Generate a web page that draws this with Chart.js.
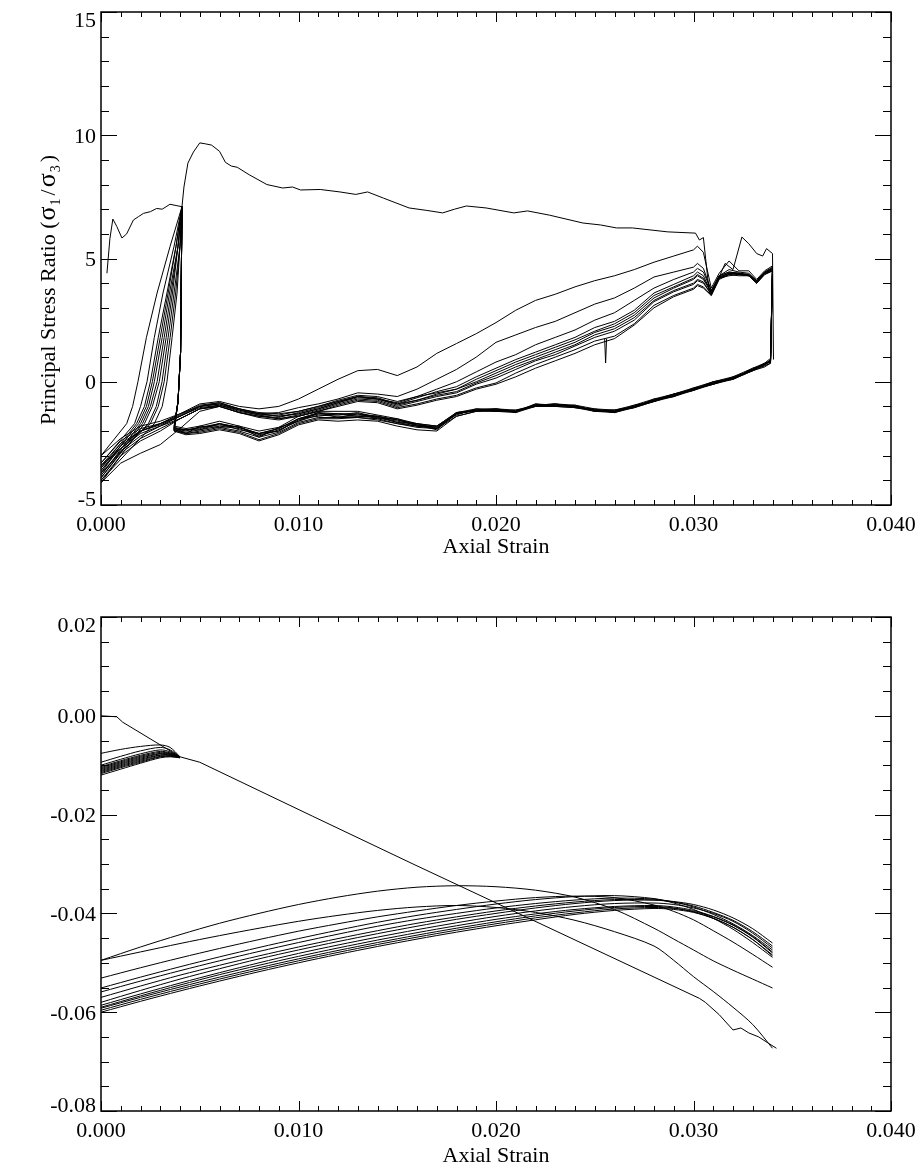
<!DOCTYPE html>
<html>
<head>
<meta charset="utf-8">
<title>Stress ratio and volumetric strain vs axial strain</title>
<script src="https://cdn.jsdelivr.net/npm/chart.js@4.4.1/dist/chart.umd.min.js"></script>
<style>
  html, body { margin: 0; padding: 0; background: #fff; }
  #wrap { position: relative; width: 923px; height: 1170px; }
  canvas { position: absolute; left: 0; }
  #stressChart { top: 0; }
  #volChart { top: 585px; }
</style>
</head>
<body>
<div id="wrap">
  <canvas id="stressChart" width="923" height="585"></canvas>
  <canvas id="volChart" width="923" height="585"></canvas>
</div>
<script>
// ---- tick labels ----
var strainTicks = [0, 0.01, 0.02, 0.03, 0.04];
var stressTicks = [-5, 0, 5, 10, 15];
var volTicks = [-0.08, -0.06, -0.04, -0.02, 0, 0.02];

// ---- stress ratio: first loading ----
var firstStrain = [0.0003, 0.00045, 0.0006, 0.0008, 0.00106, 0.0013, 0.00164, 0.0019, 0.00215, 0.0025,
  0.00282, 0.0031, 0.00349, 0.0038, 0.0041, 0.0042, 0.0044, 0.00468, 0.005, 0.0053,
  0.0056, 0.006, 0.0063, 0.0066, 0.0069, 0.0075, 0.0084, 0.0092, 0.0097, 0.0101,
  0.0111, 0.0121, 0.0129, 0.0135, 0.0143, 0.0156, 0.0165, 0.0173, 0.0179, 0.0185,
  0.0195, 0.0209, 0.0216, 0.0227, 0.0244, 0.0253, 0.0261, 0.0269, 0.0287, 0.0301,
  0.0303, 0.0305, 0.0308, 0.0312, 0.0316, 0.0320, 0.03245, 0.0328, 0.0332, 0.0335,
  0.0337, 0.0340, 0.03405];
var firstRatio = [4.4, 5.8, 6.6, 6.3, 5.83, 6.0, 6.56, 6.7, 6.83, 6.9,
  7.03, 7.0, 7.2, 7.15, 7.1, 7.9, 8.87, 9.32, 9.69, 9.65,
  9.6, 9.35, 8.9, 8.75, 8.7, 8.4, 8.0, 7.86, 7.9, 7.78,
  7.8, 7.7, 7.6, 7.7, 7.45, 7.05, 6.95, 6.85, 7.0, 7.13,
  7.05, 6.85, 6.93, 6.76, 6.44, 6.36, 6.24, 6.24, 6.08, 6.03,
  5.75, 5.85, 3.6, 4.05, 4.8, 4.55, 5.87, 5.6, 5.2, 5.1,
  5.4, 5.2, 0.9];

// ---- stress ratio: repeated cycles ----
// unloading from the peak at 0.0041 (same ratio levels for every cycle)
var steepRatio = [7.1, 5.5, 3.6, 1.8, 0, -1.0, -1.7];
var steepStrain = [
  [0.0041, 0.0035, 0.00284, 0.0023, 0.00187, 0.0016, 0.0013],
  [0.0041, 0.0037, 0.00314, 0.0027, 0.00233, 0.0020, 0.0017],
  [0.0041, 0.0038, 0.00334, 0.0029, 0.0025, 0.0022, 0.0018],
  [0.0041, 0.0038, 0.0034, 0.0030, 0.0026, 0.0023, 0.0019],
  [0.0041, 0.0039, 0.00347, 0.0031, 0.0027, 0.0024, 0.0020],
  [0.0041, 0.0039, 0.00355, 0.0032, 0.00284, 0.0025, 0.0021],
  [0.0041, 0.0039, 0.00362, 0.0033, 0.00295, 0.0026, 0.0022],
  [0.0041, 0.0040, 0.0037, 0.0034, 0.00309, 0.0028, 0.0024],
  [0.0041, 0.0040, 0.00378, 0.0035, 0.0032, 0.0029, 0.0025],
  [0.0041, 0.0040, 0.00385, 0.0036, 0.00334, 0.0031, 0.0027]
];

// upper branch, 0 -> 0.034
var strainUp = [0, 0.001, 0.002, 0.003, 0.004, 0.005, 0.006, 0.007, 0.008, 0.009,
  0.010, 0.011, 0.012, 0.013, 0.014, 0.015, 0.016, 0.017, 0.018, 0.019,
  0.020, 0.021, 0.022, 0.023, 0.024, 0.025, 0.026, 0.027, 0.028, 0.029,
  0.030, 0.0302, 0.0305, 0.0309, 0.0313, 0.0318, 0.0323, 0.0328, 0.0332, 0.0336, 0.0340];
var upperRatio = [
  [-3.0, -2.3, -1.8, -1.6, -1.3, -0.9, -0.8, -1.0, -1.1, -1.0, -0.7, -0.3, 0.1, 0.45, 0.5, 0.25, 0.6, 1.15, 1.55, 1.95,
   2.4, 2.9, 3.3, 3.55, 3.85, 4.1, 4.3, 4.55, 4.85, 5.1, 5.35, 5.5, 5.25, 3.8, 4.4, 4.9, 4.5, 4.5, 4.15, 4.5, 4.7],
  [-3.3, -2.4, -1.9, -1.7, -1.3, -1.0, -0.85, -1.1, -1.3, -1.25, -1.05, -0.9, -0.7, -0.45, -0.5, -0.6, -0.3, 0.1, 0.5, 1.0,
   1.6, 1.9, 2.2, 2.45, 2.8, 3.15, 3.4, 3.8, 4.25, 4.45, 4.65, 4.8, 4.6, 3.7, 4.3, 4.55, 4.45, 4.4, 4.1, 4.45, 4.65],
  [-3.5, -2.6, -2.0, -1.7, -1.4, -1.05, -0.95, -1.2, -1.35, -1.35, -1.2, -1.0, -0.8, -0.6, -0.7, -0.85, -0.6, -0.3, 0.0, 0.4,
   0.8, 1.1, 1.5, 1.8, 2.1, 2.5, 2.8, 3.3, 3.8, 4.15, 4.45, 4.6, 4.45, 3.7, 4.3, 4.45, 4.4, 4.35, 4.05, 4.4, 4.6],
  [-3.6, -2.7, -2.1, -1.8, -1.5, -1.1, -1.0, -1.25, -1.4, -1.45, -1.25, -1.05, -0.8, -0.6, -0.65, -0.9, -0.65, -0.4, -0.2, 0.2,
   0.55, 0.9, 1.2, 1.5, 1.8, 2.2, 2.45, 2.9, 3.6, 3.95, 4.3, 4.45, 4.3, 3.6, 4.25, 4.4, 4.35, 4.3, 4.0, 4.4, 4.55],
  [-3.8, -2.8, -2.2, -1.8, -1.4, -1.0, -0.9, -1.1, -1.3, -1.4, -1.3, -1.1, -0.85, -0.6, -0.7, -0.95, -0.75, -0.5, -0.3, 0.0,
   0.35, 0.7, 1.0, 1.3, 1.6, 2.0, 2.25, 2.7, 3.4, 3.8, 4.15, 4.3, 4.15, 3.65, 4.3, 4.45, 4.4, 4.35, 4.1, 4.45, 4.6],
  [-3.9, -2.9, -2.3, -1.9, -1.5, -1.1, -0.95, -1.15, -1.35, -1.5, -1.35, -1.15, -0.9, -0.7, -0.75, -1.0, -0.8, -0.6, -0.45, -0.1,
   0.15, 0.5, 0.85, 1.1, 1.45, 1.8, 2.05, 2.5, 3.25, 3.65, 3.95, 4.1, 4.0, 3.55, 4.2, 4.35, 4.4, 4.3, 4.05, 4.4, 4.5],
  [-4.1, -3.3, -2.9, -2.55, -1.9, -1.2, -1.0, -1.25, -1.45, -1.55, -1.4, -1.2, -0.95, -0.75, -0.8, -1.05, -0.9, -0.7, -0.55, -0.25,
   -0.05, 0.35, 0.7, 1.0, 1.3, 1.65, 1.85, 2.35, 3.1, 3.5, 3.8, 3.95, 3.85, 3.5, 4.2, 4.3, 4.35, 4.3, 4.0, 4.35, 4.5],
  [-3.7, -2.6, -2.0, -1.7, -1.35, -0.95, -0.85, -1.1, -1.25, -1.3, -1.2, -1.0, -0.75, -0.55, -0.6, -0.8, -0.6, -0.45, -0.3, 0.1,
   0.45, 0.8, 1.1, 1.4, 1.7, 2.05, 2.35, 2.8, 3.5, 3.85, 4.2, 4.35, 4.2, 3.6, 4.25, 4.4, 4.35, 4.35, 4.05, 4.4, 4.6],
  [-3.4, -2.5, -2.0, -1.75, -1.4, -1.0, -0.9, -1.15, -1.3, -1.4, -1.3, -1.1, -0.85, -0.65, -0.7, -0.9, -0.75, -0.55, -0.4, -0.05,
   0.25, 0.6, 0.9, 1.2, 1.5, 1.9, 2.15, 2.6, 3.3, 3.7, 4.0, 4.15, 4.05, 3.55, 4.2, 4.4, 4.4, 4.3, 4.0, 4.45, 4.55],
  [-4.0, -3.0, -2.4, -2.0, -1.5, -1.1, -1.0, -1.25, -1.4, -1.5, -1.4, -1.2, -1.0, -0.8, -0.85, -1.1, -0.95, -0.75, -0.6, -0.3,
   -0.1, 0.2, 0.55, 0.85, 1.15, 1.5, 1.75, 2.3, 3.0, 3.45, 3.75, 3.9, 3.8, 3.5, 4.15, 4.35, 4.3, 4.3, 4.0, 4.35, 4.5]
];

// lower branch, 0.034 -> 0.0037
var strainDown = [0.0339, 0.0336, 0.033, 0.032, 0.031, 0.030, 0.029, 0.028, 0.027, 0.026,
  0.025, 0.024, 0.023, 0.022, 0.021, 0.020, 0.019, 0.018, 0.017, 0.016,
  0.015, 0.014, 0.013, 0.012, 0.011, 0.010, 0.009, 0.008, 0.007, 0.006,
  0.005, 0.0043, 0.0037];
var lowerRatio = [
  [0.9, 0.65, 0.55, 0.1, 0.0, -0.35, -0.5, -0.8, -0.95, -1.25, -1.1, -1.05, -0.9, -1.0, -1.15, -1.2, -1.1, -1.35, -1.8, -1.8,
   -1.5, -1.5, -1.3, -1.45, -1.25, -1.6, -1.85, -2.25, -1.8, -1.85, -1.8, -2.1, -1.85],
  [0.8, 0.75, 0.45, 0.2, -0.1, -0.25, -0.6, -0.7, -1.05, -1.15, -1.2, -0.95, -1.0, -0.9, -1.25, -1.1, -1.2, -1.25, -1.9, -1.7,
   -1.65, -1.4, -1.4, -1.3, -1.4, -1.5, -2.0, -2.1, -1.95, -1.7, -1.95, -1.95, -1.95],
  [0.85, 0.7, 0.5, 0.15, -0.1, -0.3, -0.5, -0.75, -1.0, -1.2, -1.2, -1.0, -0.95, -0.9, -1.2, -1.2, -1.15, -1.3, -1.95, -1.75,
   -1.6, -1.45, -1.25, -1.35, -1.3, -1.55, -2.0, -2.15, -1.85, -1.75, -1.85, -2.0, -1.9],
  [0.75, 0.65, 0.45, 0.1, -0.05, -0.35, -0.55, -0.8, -1.05, -1.2, -1.15, -1.05, -1.0, -1.0, -1.2, -1.15, -1.2, -1.4, -1.9, -1.85,
   -1.7, -1.55, -1.45, -1.5, -1.5, -1.7, -2.1, -2.35, -2.05, -1.9, -2.05, -2.1, -2.0],
  [0.95, 0.75, 0.55, 0.2, 0.0, -0.25, -0.5, -0.7, -0.95, -1.15, -1.1, -0.95, -0.9, -0.95, -1.15, -1.1, -1.1, -1.25, -1.8, -1.7,
   -1.5, -1.35, -1.2, -1.2, -1.2, -1.4, -1.85, -2.0, -1.8, -1.6, -1.8, -1.9, -1.8],
  [0.85, 0.7, 0.5, 0.15, -0.05, -0.3, -0.6, -0.75, -1.0, -1.25, -1.15, -1.0, -0.95, -0.95, -1.2, -1.15, -1.15, -1.3, -1.85, -1.8,
   -1.65, -1.45, -1.4, -1.4, -1.35, -1.6, -1.95, -2.2, -1.9, -1.8, -1.95, -2.05, -1.95],
  [0.9, 0.7, 0.5, 0.15, -0.05, -0.3, -0.55, -0.75, -1.0, -1.2, -1.15, -1.0, -0.95, -0.95, -1.2, -1.15, -1.15, -1.3, -1.85, -1.75,
   -1.55, -1.4, -1.35, -1.3, -1.3, -1.5, -1.9, -2.1, -1.85, -1.7, -1.9, -1.95, -1.9],
  [0.75, 0.6, 0.45, 0.1, -0.1, -0.35, -0.6, -0.8, -1.05, -1.25, -1.2, -1.05, -1.0, -1.0, -1.25, -1.2, -1.2, -1.4, -2.0, -1.95,
   -1.8, -1.6, -1.55, -1.6, -1.55, -1.75, -2.15, -2.4, -2.1, -1.95, -2.1, -2.15, -2.0],
  [0.85, 0.75, 0.5, 0.15, 0.0, -0.3, -0.5, -0.75, -1.0, -1.15, -1.15, -1.0, -0.9, -0.95, -1.2, -1.1, -1.15, -1.25, -1.8, -1.7,
   -1.55, -1.4, -1.3, -1.3, -1.25, -1.5, -1.9, -2.1, -1.85, -1.7, -1.85, -1.95, -1.85],
  [0.8, 0.7, 0.45, 0.15, -0.1, -0.3, -0.55, -0.8, -1.0, -1.2, -1.15, -1.0, -0.95, -0.95, -1.2, -1.15, -1.15, -1.3, -1.9, -1.8,
   -1.7, -1.5, -1.45, -1.45, -1.45, -1.65, -2.05, -2.25, -2.0, -1.85, -2.0, -2.1, -1.95]
];

// reloading back up to the peak
var riseStrain = [0.0039, 0.00403, 0.0041];
var riseRatio = [-0.8, 1.2, 7.1];

// single bad sample near 0.0255
var spikeStrain = [0.0255, 0.02555, 0.0256];
var spikeRatio = [1.75, 0.76, 1.75];

// ---- volumetric strain ----
var volLineStrain = [0, 0.0008, 0.0011, 0.004, 0.005, 0.0107, 0.0158, 0.0214, 0.0303, 0.0306,
  0.0313, 0.0320, 0.0324, 0.0328, 0.0333, 0.0338, 0.0342];
var volLine = [0.0, -0.0002, -0.0013, -0.0083, -0.0094, -0.0203, -0.0300, -0.0405, -0.0572, -0.0580,
  -0.0605, -0.0636, -0.0632, -0.0642, -0.0650, -0.0663, -0.0673];

var arcStrain = [0, 0.002, 0.004, 0.006, 0.008, 0.010, 0.012, 0.014, 0.016, 0.018,
  0.020, 0.022, 0.024, 0.026, 0.028, 0.029, 0.030, 0.031, 0.032, 0.033, 0.034];
var volArcs = [
  [-0.0495, -0.0468, -0.0443, -0.0420, -0.0400, -0.0382, -0.0367, -0.0355, -0.0347, -0.0344, -0.0346, -0.0353, -0.0367, -0.0392, -0.0430, -0.0452, -0.0474, -0.0496, -0.0515, -0.0533, -0.0551],
  [-0.0495, -0.0478, -0.0461, -0.0445, -0.0430, -0.0416, -0.0404, -0.0394, -0.0387, -0.0384, -0.0388, -0.0398, -0.0414, -0.0437, -0.0466, -0.0495, -0.0528, -0.0558, -0.0590, -0.0625, -0.0673],
  [-0.0531, -0.0510, -0.0490, -0.0471, -0.0453, -0.0436, -0.0421, -0.0407, -0.0395, -0.0384, -0.0375, -0.0368, -0.0365, -0.0368, -0.0383, -0.0396, -0.0413, -0.0435, -0.0458, -0.0483, -0.0509],
  [-0.0551, -0.0529, -0.0508, -0.0488, -0.0469, -0.0451, -0.0434, -0.0418, -0.0404, -0.0392, -0.0381, -0.0372, -0.0366, -0.0364, -0.0370, -0.0379, -0.0392, -0.0410, -0.0432, -0.0459, -0.0489],
  [-0.0559, -0.0537, -0.0516, -0.0496, -0.0477, -0.0459, -0.0442, -0.0426, -0.0412, -0.0400, -0.0389, -0.0380, -0.0373, -0.0369, -0.0371, -0.0377, -0.0387, -0.0402, -0.0421, -0.0445, -0.0474],
  [-0.0570, -0.0547, -0.0525, -0.0505, -0.0486, -0.0468, -0.0451, -0.0435, -0.0420, -0.0407, -0.0395, -0.0385, -0.0377, -0.0372, -0.0373, -0.0377, -0.0385, -0.0398, -0.0414, -0.0437, -0.0466],
  [-0.0580, -0.0556, -0.0533, -0.0512, -0.0492, -0.0474, -0.0457, -0.0441, -0.0426, -0.0412, -0.0400, -0.0389, -0.0380, -0.0374, -0.0373, -0.0376, -0.0382, -0.0393, -0.0409, -0.0431, -0.0460],
  [-0.0586, -0.0563, -0.0541, -0.0520, -0.0500, -0.0481, -0.0464, -0.0448, -0.0433, -0.0419, -0.0406, -0.0395, -0.0386, -0.0380, -0.0379, -0.0382, -0.0389, -0.0400, -0.0416, -0.0440, -0.0470],
  [-0.0590, -0.0567, -0.0545, -0.0524, -0.0505, -0.0487, -0.0470, -0.0454, -0.0439, -0.0425, -0.0412, -0.0401, -0.0392, -0.0386, -0.0384, -0.0387, -0.0394, -0.0406, -0.0423, -0.0447, -0.0478],
  [-0.0592, -0.0570, -0.0549, -0.0529, -0.0510, -0.0492, -0.0475, -0.0459, -0.0444, -0.0430, -0.0417, -0.0405, -0.0395, -0.0388, -0.0386, -0.0389, -0.0397, -0.0410, -0.0428, -0.0453, -0.0484],
  [-0.0596, -0.0574, -0.0553, -0.0533, -0.0514, -0.0496, -0.0479, -0.0463, -0.0448, -0.0434, -0.0421, -0.0409, -0.0399, -0.0391, -0.0388, -0.0390, -0.0396, -0.0407, -0.0424, -0.0448, -0.0480],
  [-0.0600, -0.0578, -0.0557, -0.0537, -0.0518, -0.0500, -0.0483, -0.0467, -0.0452, -0.0438, -0.0425, -0.0413, -0.0402, -0.0394, -0.0390, -0.0392, -0.0398, -0.0410, -0.0428, -0.0453, -0.0486]
];

// short reloading loops that meet at the knot near 0.004
var knotStrain = [0, 0.001, 0.002, 0.003, 0.0035, 0.004];
var volKnots = [
  [-0.0076, -0.0068, -0.0062, -0.0059, -0.0064, -0.0083],
  [-0.0094, -0.0082, -0.0071, -0.0064, -0.0069, -0.0083],
  [-0.0100, -0.0088, -0.0077, -0.0069, -0.0073, -0.0083],
  [-0.0103, -0.0091, -0.0080, -0.0072, -0.0075, -0.0083],
  [-0.0105, -0.0093, -0.0082, -0.0074, -0.0076, -0.0083],
  [-0.0107, -0.0095, -0.0084, -0.0076, -0.0077, -0.0083],
  [-0.0109, -0.0097, -0.0086, -0.0077, -0.0078, -0.0083],
  [-0.0111, -0.0099, -0.0088, -0.0079, -0.0079, -0.0084],
  [-0.0113, -0.0101, -0.0090, -0.0080, -0.0080, -0.0084],
  [-0.0115, -0.0103, -0.0092, -0.0082, -0.0081, -0.0084],
  [-0.0117, -0.0105, -0.0094, -0.0083, -0.0082, -0.0085],
  [-0.0120, -0.0108, -0.0096, -0.0085, -0.0083, -0.0085]
];

var serif = '"Liberation Serif", "Times New Roman", Times, serif';

function pts(xs, ys) {
  return xs.map(function (x, i) { return { x: x, y: ys[i] }; });
}

function lineSet(points, tension) {
  return {
    data: points,
    borderColor: '#000',
    borderWidth: 1,
    pointRadius: 0,
    fill: false,
    tension: tension || 0
  };
}

// one full loop: unload, upper branch, lower branch, reload
function cyclePoints(k) {
  return pts(steepStrain[k], steepRatio)
    .concat(pts(strainUp, upperRatio[k]))
    .concat(pts(strainDown, lowerRatio[k]))
    .concat(pts(riseStrain, riseRatio));
}

// box, inward ticks on all four sides, y labels and rotated y title
function axisDecor(cfg) {
  return {
    id: 'axisDecor',
    afterDraw: function (chart) {
      var ctx = chart.ctx, a = chart.chartArea;
      var xs = chart.scales.x, ys = chart.scales.y;
      var i, n, len, px, py;
      ctx.save();
      ctx.strokeStyle = '#000';
      ctx.lineWidth = 1;
      ctx.beginPath();
      n = Math.round((xs.max - xs.min) / cfg.xStep);
      for (i = 0; i <= n; i++) {
        px = Math.round(xs.getPixelForValue(xs.min + i * cfg.xStep)) + 0.5;
        len = i % cfg.xMajor === 0 ? 10 : 5;
        ctx.moveTo(px, a.bottom); ctx.lineTo(px, a.bottom - len);
        ctx.moveTo(px, a.top); ctx.lineTo(px, a.top + len);
      }
      n = Math.round((ys.max - ys.min) / cfg.yStep);
      for (i = 0; i <= n; i++) {
        py = Math.round(ys.getPixelForValue(ys.min + i * cfg.yStep)) + 0.5;
        len = i % cfg.yMajor === 0 ? 16 : 8;
        ctx.moveTo(a.left, py); ctx.lineTo(a.left + len, py);
        ctx.moveTo(a.right, py); ctx.lineTo(a.right - len, py);
      }
      ctx.stroke();
      ctx.lineWidth = 1.5;
      ctx.strokeRect(a.left, a.top, a.right - a.left, a.bottom - a.top);

      // y tick labels, end labels kept inside the box height
      ctx.fillStyle = '#000';
      ctx.font = '22px ' + serif;
      ctx.textAlign = 'right';
      ctx.textBaseline = 'alphabetic';
      ys.ticks.forEach(function (t) {
        var base = ys.getPixelForValue(t.value) + 7.5;
        if (base > a.bottom + 1) base = a.bottom + 1;
        if (base - 15 < a.top) base = a.top + 15;
        ctx.fillText(cfg.yFormat(t.value), a.left - 5, base);
      });

      // rotated title built from pieces (for subscripts)
      ctx.translate(cfg.titleX, cfg.titleY);
      ctx.rotate(-Math.PI / 2);
      ctx.textAlign = 'left';
      var total = 0;
      cfg.title.forEach(function (p) {
        ctx.font = p.size + 'px ' + serif;
        total += ctx.measureText(p.text).width + (p.gap || 0);
      });
      var cx = -total / 2;
      cfg.title.forEach(function (p) {
        ctx.font = p.size + 'px ' + serif;
        ctx.fillText(p.text, cx, p.shift || 0);
        cx += ctx.measureText(p.text).width + (p.gap || 0);
      });
      ctx.restore();
    }
  };
}

function strainAxis(height, titlePad) {
  return {
    type: 'linear',
    min: 0,
    max: 0.04,
    afterBuildTicks: function (s) {
      s.ticks = strainTicks.map(function (v) { return { value: v }; });
    },
    afterFit: function (s) {
      s.height = height;
      s.paddingLeft = 0;
      s.paddingRight = 0;
    },
    grid: { display: false, drawTicks: false },
    border: { display: false },
    ticks: {
      color: '#000',
      font: { family: serif, size: 22 },
      padding: 7,
      maxRotation: 0,
      autoSkip: false,
      callback: function (v) { return v.toFixed(3); }
    },
    title: {
      display: true,
      text: 'Axial Strain',
      color: '#000',
      font: { family: serif, size: 22 },
      padding: { top: 0, bottom: titlePad }
    }
  };
}

function valueAxis(min, max, tickValues) {
  return {
    type: 'linear',
    min: min,
    max: max,
    afterBuildTicks: function (s) {
      s.ticks = tickValues.map(function (v) { return { value: v }; });
    },
    afterFit: function (s) {
      s.width = 101;
      s.paddingTop = 0;
      s.paddingBottom = 0;
    },
    grid: { display: false, drawTicks: false },
    border: { display: false },
    ticks: { display: false }
  };
}

var baseOptions = function (padTop, xHeight, titlePad, yMin, yMax, yTickValues) {
  return {
    responsive: false,
    animation: false,
    devicePixelRatio: 1,
    events: [],
    layout: { padding: { left: 0, right: 32, top: padTop, bottom: 0 } },
    plugins: { legend: { display: false }, tooltip: { enabled: false } },
    scales: {
      x: strainAxis(xHeight, titlePad),
      y: valueAxis(yMin, yMax, yTickValues)
    }
  };
};

// ---- top: principal stress ratio ----
var stressSets = [lineSet(pts(firstStrain, firstRatio))];
for (var k = 0; k < steepStrain.length; k++) {
  stressSets.push(lineSet(cyclePoints(k)));
}
stressSets.push(lineSet(pts(spikeStrain, spikeRatio)));

new Chart(document.getElementById('stressChart'), {
  type: 'line',
  data: { datasets: stressSets },
  options: baseOptions(12, 80, 25, -5, 15, stressTicks),
  plugins: [axisDecor({
    xStep: 0.001, xMajor: 10, yStep: 1, yMajor: 5,
    yFormat: function (v) { return String(v); },
    titleX: 55, titleY: 290,
    title: [
      { text: 'Principal Stress Ratio (', size: 22, gap: 1 },
      { text: 'σ', size: 26, gap: 1 },
      { text: '1', size: 14, shift: 5, gap: 3 },
      { text: '/', size: 22, gap: 2 },
      { text: 'σ', size: 26, gap: 1 },
      { text: '3', size: 14, shift: 5, gap: 3 },
      { text: ')', size: 22 }
    ]
  })]
});

// ---- bottom: volumetric strain ----
var volSets = [lineSet(pts(volLineStrain, volLine))];
volArcs.forEach(function (row) { volSets.push(lineSet(pts(arcStrain, row), 0.3)); });
volKnots.forEach(function (row) { volSets.push(lineSet(pts(knotStrain, row), 0.3)); });

new Chart(document.getElementById('volChart'), {
  type: 'line',
  data: { datasets: volSets },
  options: baseOptions(32, 59, 1, -0.08, 0.02, volTicks),
  plugins: [axisDecor({
    xStep: 0.001, xMajor: 10, yStep: 0.005, yMajor: 4,
    yFormat: function (v) { return Math.abs(v) < 1e-9 ? '0.00' : v.toFixed(2); },
    titleX: 32, titleY: 864,
    title: [{ text: 'Volumetric Strain', size: 22 }]
  })]
});
</script>
</body>
</html>
